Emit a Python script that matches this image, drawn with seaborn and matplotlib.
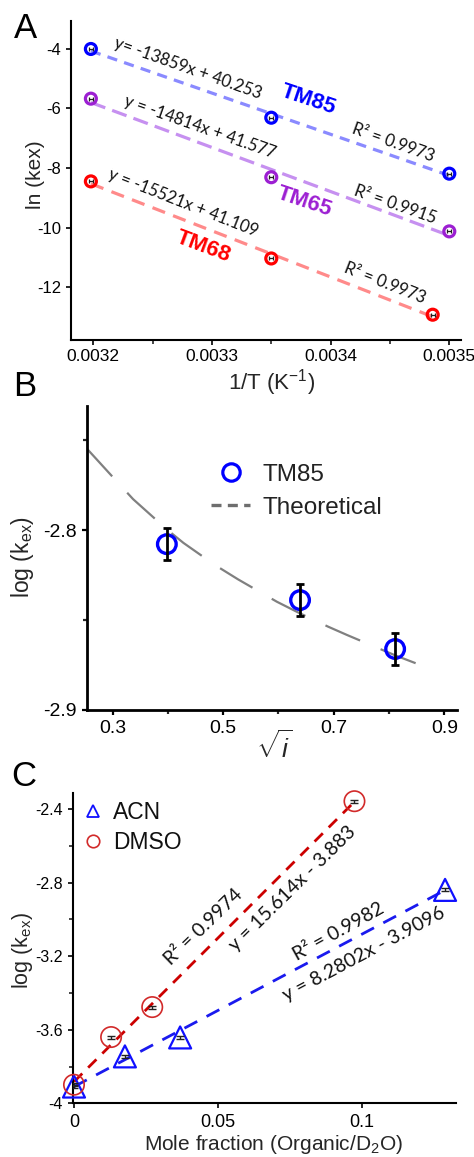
import matplotlib
matplotlib.use("Agg")
import matplotlib.pyplot as plt
from matplotlib.lines import Line2D
import numpy as np
import seaborn as sns

# Panel A: ln(kex) vs 1/T for three peptides
inv_T_tm85 = [0.003198, 0.003350, 0.003500]
ln_k_tm85 = [-4.00, -6.31, -8.19]
inv_T_tm65 = [0.003198, 0.003350, 0.003500]
ln_k_tm65 = [-5.67, -8.31, -10.13]
inv_T_tm68 = [0.003198, 0.003350, 0.003486]
ln_k_tm68 = [-8.45, -11.04, -12.93]
xerr_A = 0.0000018
names_A = ["TM85", "TM65", "TM68"]
slopes_A = [-13859, -14814, -15521]
intercepts_A = [40.253, 41.577, 41.109]
r2_A = ["0.9973", "0.9915", "0.9973"]

# Panel B: log(kex) vs sqrt(ionic strength)
sqrt_i = [0.398, 0.639, 0.811]
log_k_B = [-2.8078, -2.8389, -2.8661]
err_B = [0.0088, 0.0090, 0.0090]
theo_x = [0.253, 0.313, 0.337, 0.398, 0.428, 0.485, 0.527, 0.597, 0.639, 0.690, 0.724, 0.811, 0.877]
theo_y = [-2.7546, -2.7748, -2.7828, -2.7996, -2.8071, -2.8194, -2.8274, -2.8398, -2.8463,
          -2.8537, -2.8583, -2.8696, -2.8774]

# Panel C: log(kex) vs mole fraction of organic co-solvent
frac_acn = [0.0, 0.0177, 0.0369, 0.129]
log_k_acn = [-3.909, -3.745, -3.642, -2.840]
err_acn = [0.008, 0.008, 0.008, 0.008]
frac_dmso = [0.0, 0.0129, 0.0272, 0.0975]
log_k_dmso = [-3.899, -3.640, -3.477, -2.358]
err_dmso = [0.008, 0.008, 0.008, 0.008]
slope_acn, icpt_acn, r2_acn = 8.2802, -3.9096, "0.9982"
slope_dmso, icpt_dmso, r2_dmso = 15.614, -3.883, "0.9974"

sns.set_theme(style="ticks")
plt.rcParams["font.family"] = ["Liberation Sans", "DejaVu Sans"]
plt.rcParams["mathtext.fontset"] = "custom"
plt.rcParams["mathtext.rm"] = "Liberation Sans"
plt.rcParams["mathtext.it"] = "Liberation Sans:italic"
plt.rcParams["mathtext.bf"] = "Liberation Sans:bold"
ann_font = ["Lato", "DejaVu Sans"]

fig = plt.figure(figsize=(4.74, 11.57), dpi=100)
W, H = 474.0, 1157.0


def px_axes(l, r, t, b):
    return fig.add_axes([l / W, 1 - b / H, (r - l) / W, (b - t) / H])


def style_axis(ax, lw, xsize, ysize, xpad, ypad, tlen):
    for side in ["top", "right"]:
        ax.spines[side].set_visible(False)
    for side in ["left", "bottom"]:
        ax.spines[side].set_linewidth(lw)
        ax.spines[side].set_color("black")
    ax.tick_params(axis="x", which="major", length=tlen, width=lw * 0.8, labelsize=xsize, pad=xpad, direction="out")
    ax.tick_params(axis="y", which="major", length=tlen, width=lw * 0.8, labelsize=ysize, pad=ypad, direction="out")
    ax.tick_params(which="minor", length=tlen * 0.9, width=lw * 0.8, direction="out")
    ax.tick_params(colors="black")


# ---------------- Panel A ----------------
axA = px_axes(71.3, 460.7, 21, 340)
colors_A = ["#0000ff", "#9c1fd2", "#ff0000"]
line_cols_A = ["#8a8aff", "#c690f0", "#ff8a8a"]
dash_A = [(0, (3.2, 2.3)), (0, (4.8, 2.3)), (0, (4.2, 2.7))]
xs_A = [inv_T_tm85, inv_T_tm65, inv_T_tm68]
ys_A = [ln_k_tm85, ln_k_tm65, ln_k_tm68]

for i in range(3):
    xx = np.array([min(xs_A[i]), max(xs_A[i])])
    sns.lineplot(x=xx, y=slopes_A[i] * xx + intercepts_A[i], color=line_cols_A[i],
                 linewidth=2.3, linestyle=dash_A[i], ax=axA, zorder=2)
    sns.scatterplot(x=xs_A[i], y=ys_A[i], s=62, marker="o", facecolors="none",
                    edgecolor=colors_A[i], linewidth=2.3, ax=axA, zorder=3)
    axA.errorbar(xs_A[i], ys_A[i], xerr=xerr_A, fmt="none", ecolor="#222222",
                 elinewidth=0.9, capsize=1.4, capthick=0.9, zorder=4)

axA.set_xlim(0.0031815, 0.0035096)
axA.set_ylim(-13.78, -3.06)
axA.set_xticks([0.0032, 0.0033, 0.0034, 0.0035])
axA.set_xticklabels(["0.0032", "0.0033", "0.0034", "0.0035"])
axA.set_xticks([0.00325, 0.00335, 0.00345], minor=True)
axA.set_yticks([-4, -6, -8, -10, -12])
axA.set_yticklabels(["-4", "-6", "-8", "-10", "-12"])
style_axis(axA, 1.5, 12.5, 12, 3, 4, 3.5)

eq_pos_A = [(0.0032795, -4.64), (0.003290, -6.62), (0.003276, -9.18)]
name_pos_A = [(0.003381, -5.71), (0.003378, -9.13), (0.003293, -10.65)]
r2_pos_A = [(0.0034525, -7.15), (0.003454, -9.24), (0.003446, -11.88)]
rot_A = [-19.5, -19.5, -21.5]
eq_sep = ["", " ", " "]
for i in range(3):
    eq = "y%s= %dx + %.3f" % (eq_sep[i], slopes_A[i], intercepts_A[i])
    axA.text(*eq_pos_A[i], eq, rotation=rot_A[i], rotation_mode="anchor", ha="center", va="center",
             fontsize=12, family=ann_font, color="#111111")
    axA.text(*name_pos_A[i], names_A[i], rotation=rot_A[i] + 1, rotation_mode="anchor", ha="center",
             va="center", fontsize=16, fontweight="bold", color=colors_A[i])
    axA.text(*r2_pos_A[i], "R² = " + r2_A[i], rotation=rot_A[i], rotation_mode="anchor", ha="center",
             va="center", fontsize=12, family=ann_font, color="#111111")

axA.set_xlabel("1/T (K$^{-1}$)", fontsize=16, va="center")
axA.xaxis.set_label_coords(0.5146, -0.1348)
axA.set_ylabel("ln (kex)", fontsize=15, va="center")
axA.yaxis.set_label_coords(-0.0932, 0.5172)

# ---------------- Panel B ----------------
axB = px_axes(86.7, 457.3, 406, 710)
sns.lineplot(x=theo_x, y=theo_y, color="#808080", linewidth=1.6, linestyle=(0, (17, 10)),
             ax=axB, zorder=2)
sns.scatterplot(x=sqrt_i, y=log_k_B, s=180, marker="o", facecolors="none", edgecolor="#0000ff",
                linewidth=2.4, ax=axB, zorder=3)
axB.errorbar(sqrt_i, log_k_B, yerr=err_B, fmt="none", ecolor="black", elinewidth=2,
             capsize=2.8, capthick=2, zorder=4)
axB.set_xlim(0.253, 0.9235)
axB.set_ylim(-2.9, -2.731)
axB.set_xticks([0.3, 0.5, 0.7, 0.9])
axB.set_xticklabels(["0.3", "0.5", "0.7", "0.9"])
axB.set_xticks([0.4, 0.6, 0.8], minor=True)
axB.set_yticks([-2.8, -2.9])
axB.set_yticklabels(["-2.8", "-2.9"])
axB.set_yticks([-2.75, -2.85], minor=True)
style_axis(axB, 2.0, 14, 14, 4, 4, 3.5)

hB = [Line2D([], [], marker="o", linestyle="none", markerfacecolor="none", markeredgecolor="#0000ff",
             markeredgewidth=2.3, markersize=12.5),
      Line2D([], [], color="#6e6e6e", linewidth=2.4, linestyle=(0, (3.0, 1.9)))]
legB = axB.legend(hB, ["TM85", "Theoretical"], loc="upper left", bbox_to_anchor=(0.336, 0.81),
                  frameon=False, fontsize=17.5, handlelength=1.6, handletextpad=0.5,
                  labelspacing=0.45, borderpad=0, borderaxespad=0)
for t in legB.get_texts():
    t.set_color("#222222")

axB.set_xlabel(r"$\sqrt{\mathit{i}}$", fontsize=19, va="center")
axB.xaxis.set_label_coords(0.5054, -0.1217)
axB.set_ylabel(r"log (k$_{\mathrm{ex}}$)", fontsize=16.5, va="center")
axB.yaxis.set_label_coords(-0.1719, 0.5043)

# ---------------- Panel C ----------------
axC = px_axes(72.7, 456, 793.3, 1103.3)
xa = np.array([min(frac_acn), max(frac_acn)])
xd = np.array([min(frac_dmso), max(frac_dmso)])
sns.lineplot(x=xa, y=slope_acn * xa + icpt_acn, color="#1a1aee", linewidth=2.0,
             linestyle=(0, (5.2, 3.8)), ax=axC, zorder=2)
sns.lineplot(x=xd, y=slope_dmso * xd + icpt_dmso, color="#cc0000", linewidth=2.0,
             linestyle=(0, (4.2, 3.0)), ax=axC, zorder=2)
sns.scatterplot(x=frac_acn, y=log_k_acn, s=250, marker="^", facecolors="none", edgecolor="#1010ff",
                linewidth=1.6, ax=axC, zorder=3, clip_on=False)
sns.scatterplot(x=frac_dmso, y=log_k_dmso, s=215, marker="o", facecolors="none", edgecolor="#d22a2a",
                linewidth=1.2, ax=axC, zorder=3, clip_on=False)
axC.errorbar(frac_acn, log_k_acn, yerr=err_acn, fmt="none", ecolor="#222222", elinewidth=1,
             capsize=3, capthick=1, zorder=4)
axC.errorbar(frac_dmso, log_k_dmso, yerr=err_dmso, fmt="none", ecolor="#222222", elinewidth=1,
             capsize=3, capthick=1, zorder=4)
axC.set_xlim(-0.00045, 0.1328)
axC.set_ylim(-4.0, -2.315)
axC.set_xticks([0, 0.05, 0.1])
axC.set_xticklabels(["0", "0.05", "0.1"])
axC.set_yticks([-2.4, -2.8, -3.2, -3.6, -4.0])
axC.set_yticklabels(["-2.4", "-2.8", "-3.2", "-3.6", "-4"])
axC.set_yticks([-2.6, -3.0, -3.4, -3.8], minor=True)
style_axis(axC, 1.5, 13, 11.5, 4, 3.5, 3.5)

axC.text(0.04496, -3.039, "R² = " + r2_dmso, rotation=44, rotation_mode="anchor", ha="center",
         va="center", fontsize=14, family=ann_font, color="#111111")
axC.text(0.0759, -2.831, "y = %.3fx - %.3f" % (slope_dmso, -icpt_dmso), rotation=44.5,
         rotation_mode="anchor", ha="center", va="center", fontsize=14, family=ann_font, color="#111111")
axC.text(0.0919, -3.066, "R² = " + r2_acn, rotation=29, rotation_mode="anchor", ha="center",
         va="center", fontsize=14, family=ann_font, color="#111111")
axC.text(0.1006, -3.187, "y = %.4fx - %.4f" % (slope_acn, -icpt_acn), rotation=28,
         rotation_mode="anchor", ha="center", va="center", fontsize=14, family=ann_font, color="#111111")

hC = [Line2D([], [], marker="^", linestyle="none", markerfacecolor="none", markeredgecolor="#1010ff",
             markeredgewidth=1.3, markersize=8),
      Line2D([], [], marker="o", linestyle="none", markerfacecolor="none", markeredgecolor="#d22a2a",
             markeredgewidth=1.2, markersize=9)]
legC = axC.legend(hC, ["ACN", "DMSO"], loc="upper left", bbox_to_anchor=(0.03, 0.975), frameon=False,
                  fontsize=16.5, handlelength=0.8, handletextpad=0.45, labelspacing=0.3,
                  borderpad=0, borderaxespad=0)
for t in legC.get_texts():
    t.set_color("#111111")

axC.set_xlabel("Mole fraction (Organic/D$_2$O)", fontsize=15, va="center")
axC.xaxis.set_label_coords(0.5234, -0.1345)
axC.set_ylabel(r"log (k$_{\mathrm{ex}}$)", fontsize=15.5, va="center")
axC.yaxis.set_label_coords(-0.1297, 0.4945)

# panel letters
for letter, (px, py) in zip(["A", "B", "C"], [(25, 28), (25, 386), (24, 776.5)]):
    fig.text(px / W, 1 - py / H, letter, fontsize=25, ha="center", va="center", color="black")

fig.savefig("out.png", dpi=100)
